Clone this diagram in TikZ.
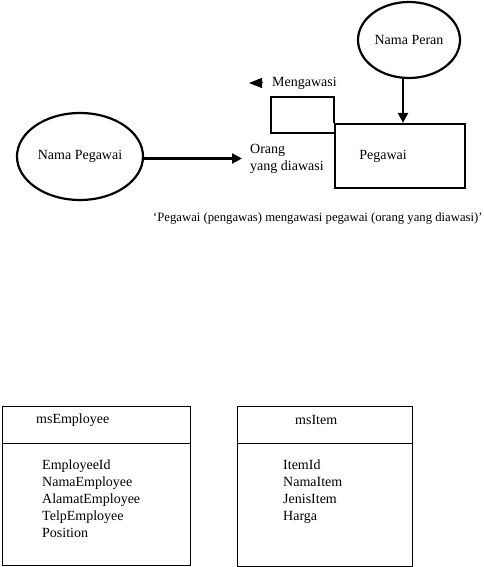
\documentclass[tikz,border=0pt]{standalone}
\usepackage{fontspec}
\setmainfont{Liberation Serif}
\usetikzlibrary{positioning,shapes.geometric,arrows.meta}

\begin{document}
\begin{tikzpicture}[x=1pt, y=1pt, font=\fontsize{14}{17}\selectfont,
		ent/.style={ellipse, draw, line width=2.2pt, inner sep=0pt},
		pbox/.style={rectangle, draw, line width=2.2pt, minimum width=130pt, minimum height=64pt},
		tbl/.style={rectangle, draw, line width=0.9pt, inner sep=0pt},
		lbl/.style={inner sep=0pt, align=left},
		arr/.style={-{Triangle[length=10pt, width=10pt]}, line width=2.2pt},
		headonly/.style={-{Triangle[length=13pt, width=10pt]}, line width=1pt}]
		\useasboundingbox (0,0) rectangle (484,567);

		\node[ent, minimum width=102pt, minimum height=76pt] (peran) at (409,527) {Nama Peran};
		\node[ent, minimum width=126pt, minimum height=87pt] (namapegawai) at (80,410.5) {Nama Pegawai};
		\node[pbox, label={[xshift=-17pt]center:Pegawai}] (pegawai) at (400,411) {};
		\node[lbl, anchor=west] (mengawasi) at (272,484) {Mengawasi};
		\node[lbl, anchor=west] (orang) at (250,408.5) {Orang\\yang diawasi};
		\node[lbl, anchor=west, font=\fontsize{12.7}{15}\selectfont] (caption) at (153,349) {‘Pegawai (pengawas) mengawasi pegawai (orang yang diawasi)’};

		\draw[arr] ([xshift=-6pt]peran.south) -- ([xshift=-6pt]peran.south |- pegawai.north);
		\draw[arr] (namapegawai.east |- orang) -- ([xshift=-8pt]orang.west);
		\draw[headonly] ([xshift=-10pt]mengawasi.west) -- ++(-13,0);
		\draw[line width=2.2pt] ([yshift=-10pt]pegawai.north west) -- ++(-63,0) -- ++(0,36) -- ++(63,0) -- (pegawai.north west);

		% tabel
		\node[tbl, minimum width=188pt, minimum height=159pt] (msemployee) at (96,81.5) {};
		\draw[line width=0.9pt] ([yshift=-38pt]msemployee.north west) -- ([yshift=-38pt]msemployee.north east);
		\node[lbl, anchor=west] (msemployeehead) at (36,147) {msEmployee};
		\node[lbl, anchor=north west] (msemployeeattr) at (42,107) {EmployeeId\\NamaEmployee\\AlamatEmployee\\TelpEmployee\\Position};

		\node[tbl, minimum width=175pt, minimum height=160pt] (msitem) at (324.5,81) {};
		\draw[line width=0.9pt] ([yshift=-38pt]msitem.north west) -- ([yshift=-38pt]msitem.north east);
		\node[lbl, anchor=west] (msitemhead) at (295,147) {msItem};
		\node[lbl, anchor=north west] (msitemattr) at (283,107) {ItemId\\NamaItem\\JenisItem\\Harga};
	\end{tikzpicture}
\end{document}
